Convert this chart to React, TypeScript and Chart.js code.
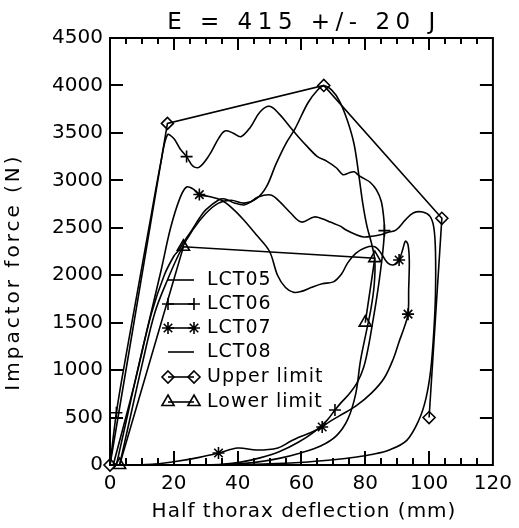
import React, { useEffect, useRef } from 'react';
import { Chart, registerables } from 'chart.js';

Chart.register(...registerables);

// ---- data ----
const titleText = 'E = 415 +/- 20 J';
const xAxisTitle = 'Half thorax deflection (mm)';
const yAxisTitle = 'Impactor force (N)';

const xMin = 0;
const xMax = 120;
const xStep = 20;
const xMinorStep = 5;
const yMin = 0;
const yMax = 4500;
const yStep = 500;

const legendLabels = ['LCT05', 'LCT06', 'LCT07', 'LCT08', 'Upper limit', 'Lower limit'];

const lct05X = [3, 6, 10, 14, 18, 22, 26, 30, 34, 38, 42, 46, 49, 52, 55, 58, 62, 65, 67, 69.5, 72, 74.5, 76.5, 78, 79.2, 80.5, 82, 83, 82.8, 81.8, 80.3, 78.5, 77, 74.5, 71, 66, 60, 53, 46, 39, 32];
const lct05Y = [0, 450, 1050, 1600, 1950, 2250, 2480, 2650, 2760, 2790, 2760, 2810, 2930, 3170, 3380, 3545, 3815, 3950, 3995, 3950, 3830, 3620, 3380, 3050, 2760, 2520, 2330, 2150, 1900, 1650, 1400, 1100, 750, 480, 310, 200, 130, 70, 30, 10, 0];

const lct06X = [0, 2, 5, 9, 13, 16, 18, 20, 22, 24, 26, 28, 31, 34, 36, 38.5, 41, 44, 47, 50, 53, 56, 59, 62, 65, 68, 71, 73, 75, 76.5, 78, 79.5, 81.5, 83.5, 85, 85.8, 86, 85.5, 84.4, 83.3, 82.3, 81, 79.5, 77.5, 75, 72.5, 70.5, 68, 64, 59, 53, 47, 41, 35, 28];
const lct06Y = [0, 550, 1150, 1900, 2650, 3200, 3480, 3440, 3330, 3250, 3150, 3140, 3260, 3440, 3520, 3500, 3460, 3560, 3720, 3780, 3700, 3580, 3460, 3350, 3250, 3200, 3130, 3060, 3080, 3090, 3050, 3020, 2980, 2900, 2780, 2600, 2470, 2250, 1950, 1700, 1500, 1250, 1030, 870, 750, 660, 580, 470, 350, 240, 140, 75, 30, 8, 0];
const lct06MarkX = [2, 24, 86, 70.5];
const lct06MarkY = [550, 3250, 2470, 580];

const lct07X = [1, 4, 8, 12, 16, 19, 22, 24, 26, 28, 31, 35, 38.5, 42, 46, 50, 52.5, 55, 57.5, 60, 63, 66.5, 70, 72.5, 74.5, 77, 80, 83, 85, 87, 89, 90.6, 91.8, 92.6, 93.4, 93.8, 93.6, 93.4, 92.2, 90.6, 88.8, 86, 82, 77, 72, 68.5, 66.5, 62.8, 59, 56.6, 52.6, 46, 40, 34, 28, 21, 14, 8];
const lct07Y = [0, 380, 900, 1480, 2050, 2500, 2820, 2930, 2910, 2850, 2830, 2790, 2700, 2580, 2420, 2250, 2000, 1870, 1820, 1830, 1870, 1910, 1930, 2010, 2130, 2230, 2290, 2300, 2230, 2130, 2110, 2160, 2280, 2360, 2320, 2150, 1850, 1590, 1450, 1300, 1120, 920, 760, 620, 520, 450, 400, 340, 290, 250, 180, 158, 179, 126, 80, 40, 10, 0];
const lct07MarkX = [28, 90.6, 93.4, 66.5, 34];
const lct07MarkY = [2850, 2160, 1590, 400, 126];

const lct08X = [2, 5, 9, 13, 17, 20, 21.6, 23.5, 25.7, 28, 30, 34, 36, 39, 42, 44, 46.4, 50.4, 53, 56.6, 60, 64, 67, 69, 72, 74, 77, 79.5, 82, 84.4, 87, 89.7, 92.5, 95, 98, 100.3, 101.5, 102, 102, 101.5, 100.5, 99, 96.8, 93, 87.5, 82, 77.3, 70, 62, 56.6, 48, 38, 28];
const lct08Y = [0, 450, 1050, 1600, 2000, 2200, 2266, 2370, 2477, 2600, 2688, 2793, 2804, 2761, 2740, 2770, 2825, 2846, 2780, 2656, 2560, 2614, 2590, 2561, 2520, 2477, 2430, 2403, 2410, 2424, 2450, 2477, 2580, 2656, 2667, 2620, 2500, 2250, 1800, 1420, 1000, 700, 474, 260, 158, 110, 84, 55, 32, 21, 10, 3, 0];

const upperX = [0, 18, 67, 104, 100];
const upperY = [0, 3600, 4000, 2600, 500];

const lowerX = [3, 23, 83, 80];
const lowerY = [0, 2300, 2180, 1500];

// ---- helpers ----
const FONT = '"DejaVu Sans", sans-serif';
const pts = (xs: number[], ys: number[]) => xs.map((x, i) => ({ x, y: ys[i] }));

function drawMarker(ctx: CanvasRenderingContext2D, style: string, x: number, y: number, r: number) {
  ctx.beginPath();
  if (style === 'cross') {
    ctx.moveTo(x - r, y); ctx.lineTo(x + r, y);
    ctx.moveTo(x, y - r); ctx.lineTo(x, y + r);
  } else if (style === 'star') {
    const d = r * Math.SQRT1_2;
    ctx.moveTo(x - r, y); ctx.lineTo(x + r, y);
    ctx.moveTo(x, y - r); ctx.lineTo(x, y + r);
    ctx.moveTo(x - d, y - d); ctx.lineTo(x + d, y + d);
    ctx.moveTo(x - d, y + d); ctx.lineTo(x + d, y - d);
  } else if (style === 'rectRot') {
    ctx.moveTo(x, y - r); ctx.lineTo(x + r, y); ctx.lineTo(x, y + r); ctx.lineTo(x - r, y); ctx.closePath();
  } else if (style === 'triangle') {
    ctx.moveTo(x, y - r);
    ctx.lineTo(x + r * 0.866, y + r * 0.5);
    ctx.lineTo(x - r * 0.866, y + r * 0.5);
    ctx.closePath();
  }
  ctx.stroke();
}

const legendStyles = [
  { marker: '', r: 0 },
  { marker: 'cross', r: 6 },
  { marker: 'star', r: 6 },
  { marker: '', r: 0 },
  { marker: 'rectRot', r: 6 },
  { marker: 'triangle', r: 7 },
];

const decorPlugin = {
  id: 'decor',
  afterDraw(chart: any) {
    const ctx: CanvasRenderingContext2D = chart.ctx;
    const a = chart.chartArea;
    const xs = chart.scales.x;
    const ys = chart.scales.y;
    ctx.save();
    ctx.setLineDash([]);
    ctx.strokeStyle = '#000';
    ctx.fillStyle = '#000';
    ctx.lineWidth = 2;
    // frame
    ctx.strokeRect(a.left, a.top, a.right - a.left, a.bottom - a.top);
    // inward ticks
    for (let v = yMin + yStep; v < yMax; v += yStep) {
      const p = Math.round(ys.getPixelForValue(v));
      ctx.fillRect(a.left, p - 1, 13, 2);
      ctx.fillRect(a.right - 13, p - 1, 13, 2);
    }
    for (let v = xMin + xMinorStep; v < xMax; v += xMinorStep) {
      const p = Math.round(xs.getPixelForValue(v));
      const major = v % xStep === 0;
      const lb = major ? 14 : 7;
      const lt = major ? 12 : 6;
      ctx.fillRect(p - 1, a.bottom - lb, 2, lb);
      ctx.fillRect(p - 1, a.top, 2, lt);
    }

    // title
    ctx.textAlign = 'center';
    ctx.textBaseline = 'middle';
    ctx.font = `23px ${FONT}`;
    (ctx as any).letterSpacing = '5.5px';
    ctx.fillText(titleText, 304, 23);

    // axis titles
    ctx.font = `20px ${FONT}`;
    (ctx as any).letterSpacing = '1px';
    ctx.fillText(xAxisTitle, 304, 512);
    ctx.save();
    ctx.translate(14, 272);
    ctx.rotate(-Math.PI / 2);
    (ctx as any).letterSpacing = '3px';
    ctx.fillText(yAxisTitle, 0, 0);
    ctx.restore();

    // legend
    const ly = [280, 304, 328, 352, 377, 402];
    ctx.font = `19px ${FONT}`;
    (ctx as any).letterSpacing = '1px';
    ctx.textAlign = 'left';
    legendLabels.forEach((lab, i) => {
      const y = ly[i];
      ctx.lineWidth = 1.6;
      ctx.beginPath();
      ctx.moveTo(168, y); ctx.lineTo(194, y);
      ctx.stroke();
      const st = legendStyles[i];
      if (st.marker) {
        ctx.lineWidth = 1.6;
        drawMarker(ctx, st.marker, 168, y, st.r);
        drawMarker(ctx, st.marker, 194, y, st.r);
      }
      ctx.fillText(lab, 207, y);
    });
    ctx.restore();
  },
};

export default function App() {
  const ref = useRef<HTMLCanvasElement | null>(null);

  useEffect(() => {
    if (!ref.current) return;
    const curve = (label: string, xs: number[], ys: number[]) => ({
      label,
      data: pts(xs, ys),
      showLine: true,
      borderColor: '#000',
      borderWidth: 1.6,
      pointRadius: 0,
      tension: 0.35,
      fill: false,
      clip: false as any,
    });
    const marks = (label: string, xs: number[], ys: number[], style: string, r: number) => ({
      label,
      data: pts(xs, ys),
      showLine: false,
      borderColor: '#000',
      backgroundColor: 'rgba(0,0,0,0)',
      pointStyle: style,
      pointRadius: r,
      pointBorderWidth: 1.6,
      clip: false as any,
    });
    const chart = new Chart(ref.current, {
      type: 'scatter',
      data: {
        datasets: [
          curve('LCT05', lct05X, lct05Y),
          curve('LCT06', lct06X, lct06Y),
          marks('LCT06 markers', lct06MarkX, lct06MarkY, 'cross', 6),
          curve('LCT07', lct07X, lct07Y),
          marks('LCT07 markers', lct07MarkX, lct07MarkY, 'star', 6),
          curve('LCT08', lct08X, lct08Y),
          {
            label: 'Upper limit',
            data: pts(upperX, upperY),
            showLine: true,
            borderColor: '#000',
            borderWidth: 1.6,
            backgroundColor: 'rgba(0,0,0,0)',
            tension: 0,
            pointStyle: 'rectRot',
            pointRadius: 6,
            pointBorderWidth: 1.6,
            clip: false as any,
          },
          {
            label: 'Lower limit',
            data: pts(lowerX, lowerY),
            showLine: true,
            borderColor: '#000',
            borderWidth: 1.6,
            backgroundColor: 'rgba(0,0,0,0)',
            tension: 0,
            pointStyle: 'triangle',
            pointRadius: 7,
            pointBorderWidth: 1.6,
            clip: false as any,
          },
        ],
      },
      options: {
        animation: false,
        responsive: true,
        maintainAspectRatio: false,
        layout: { padding: { top: 38, right: 21, left: 0, bottom: 0 } },
        plugins: { legend: { display: false }, tooltip: { enabled: false }, title: { display: false } },
        scales: {
          x: {
            type: 'linear',
            min: xMin,
            max: xMax,
            grid: { display: false, drawTicks: false },
            border: { display: false },
            ticks: {
              stepSize: xStep, color: '#000', font: { family: FONT, size: 20 }, padding: 7, maxRotation: 0,
              callback: (v: any) => String(v),
            },
            afterFit: (s: any) => { s.height = 63; },
          },
          y: {
            type: 'linear',
            min: yMin,
            max: yMax,
            grid: { display: false, drawTicks: false },
            border: { display: false },
            ticks: {
              stepSize: yStep, color: '#000', font: { family: FONT, size: 20 }, padding: 7,
              callback: (v: any) => String(v),
            },
            afterFit: (s: any) => { s.width = 110; },
          },
        },
      } as any,
      plugins: [decorPlugin],
    });
    return () => chart.destroy();
  }, []);

  return (
    <div style={{ position: 'absolute', left: 0, top: 0, width: 519, height: 528, background: '#fff' }}>
      <canvas ref={ref} />
    </div>
  );
}
